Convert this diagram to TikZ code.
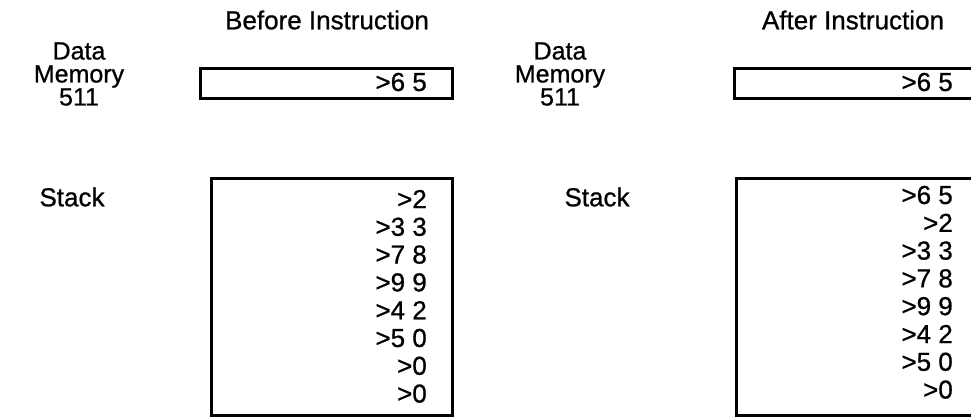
\documentclass[tikz,border=0pt]{standalone}
\usepackage{fontspec}
\setmainfont{Liberation Sans}[FakeBold=0.8]
\begin{document}
\begin{tikzpicture}[x=1pt,y=-1pt,
 lbl/.style={font=\fontsize{25}{23}\selectfont, align=center, inner sep=0pt},
 ttl/.style={font=\fontsize{26}{30}\selectfont, inner sep=0pt},
 box/.style={draw, line width=2.5pt, inner sep=0pt, anchor=north west},
 val/.style={font=\fontsize{26}{28}\selectfont, anchor=east, inner sep=0pt}]
\useasboundingbox (0,0) rectangle (971,416);
\clip (0,0) rectangle (971,416);
% titles
\node[ttl] (tb) at (327,20) {Before Instruction};
\node[ttl] (ta) at (853,20) {After Instruction};
% labels
\node[lbl] (dm1) at (79,74) {Data\\Memory\\511};
\node[lbl] (dm2) at (560,74) {Data\\Memory\\511};
\node[ttl] (st1) at (72,197) {Stack};
\node[ttl] (st2) at (597,197) {Stack};
% data memory boxes
\node[box, minimum width=252pt, minimum height=30pt] (mb1) at (199,67) {};
\node[box, minimum width=260pt, minimum height=30pt] (mb2) at (733,67) {};
\node[val] (mv1) at (427,82) {>6 5};
\node[val] (mv2) at (953,82) {>6 5};
% stack boxes
\node[box, minimum width=241pt, minimum height=237pt] (sb1) at (210,177) {};
\node[box, minimum width=260pt, minimum height=237pt] (sb2) at (735,177) {};
\foreach \v [count=\i from 0] in {>2,>3 3,>7 8,>9 9,>4 2,>5 0,>0,>0}
  \node[val] (sa\i) at (427,199+27.8*\i) {\v};
\foreach \v [count=\i from 0] in {>6 5,>2,>3 3,>7 8,>9 9,>4 2,>5 0,>0}
  \node[val] (sc\i) at (953,195+27.8*\i) {\v};
\end{tikzpicture}
\end{document}
